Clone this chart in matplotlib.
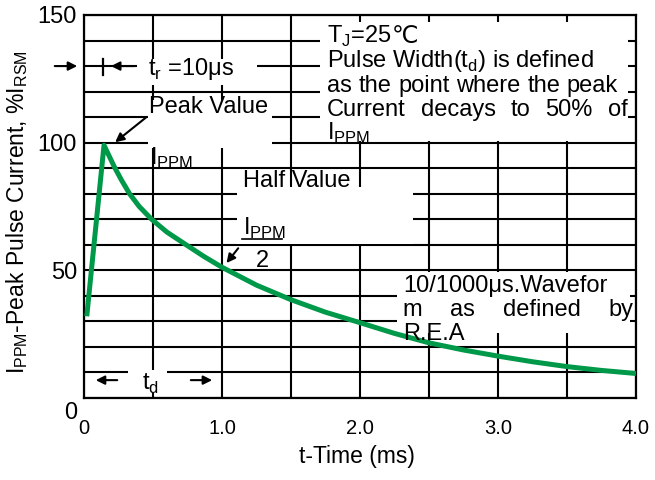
import matplotlib
matplotlib.use("Agg")
import matplotlib.pyplot as plt
from matplotlib.patches import Rectangle
from matplotlib.transforms import ScaledTranslation

plt.rcParams['font.family'] = ['Liberation Sans', 'DejaVu Sans']
plt.rcParams['mathtext.fontset'] = 'custom'
plt.rcParams['mathtext.rm'] = 'Liberation Sans'

#  10/1000us pulse waveform
t_ms = [0.02, 0.145, 0.22, 0.27, 0.33, 0.40, 0.49, 0.60, 0.74, 0.87, 1.0,
        1.25, 1.5, 1.75, 2.0, 2.25, 2.5, 2.75, 3.0, 3.25, 3.5, 3.75, 4.0]
ipp = [32, 99, 90.5, 85.5, 80, 75, 70, 65, 60, 55.4, 51.2,
       44.2, 38.5, 33.6, 29.5, 25.3, 21.6, 18.8, 16.4, 14.2, 12.3, 10.8, 9.6]

x_ticks = [0, 1, 2, 3, 4]
x_labels = ['0', '1.0', '2.0', '3.0', '4.0']
y_ticks = [0, 50, 100, 150]
y_labels = ['0', '50', '100', '150']

GREEN = '#00994a'
FS = 17

fig = plt.figure(figsize=(6.55, 4.8), dpi=100)
ax = fig.add_axes([84 / 655, 82 / 480, 552 / 655, 383 / 480])
ax.set_xlim(0, 4)
ax.set_ylim(0, 150)

ax.set_xticks(x_ticks, x_labels, fontsize=14.5)
ax.set_yticks(y_ticks, y_labels, fontsize=17)
ax.set_xticks([i * 0.5 for i in range(9)], minor=True)
ax.set_yticks(list(range(0, 151, 10)), minor=True)
ax.tick_params(which='both', length=0)
ax.tick_params(axis='x', pad=15)
ax.tick_params(axis='y', pad=5)
ax.set_axisbelow(True)
ax.grid(which='both', color='black', lw=1.5)
for s in ax.spines.values():
    s.set_linewidth(1.6)

# the "0" on the y axis sits a bit lower in the original
lab0 = ax.yaxis.get_major_ticks()[0].label1
lab0.set_transform(lab0.get_transform() +
                   ScaledTranslation(0, -9 / 72, fig.dpi_scale_trans))

#  white boxes behind the annotations (hide the grid there)
masks = [(0.384, 122.6, 0.87, 10.2),
         (0.464, 98.0, 0.898, 18.7),
         (1.109, 60.3, 1.275, 22.3),
         (2.268, 25.5, 1.689, 23.9),
         (0.319, 2.0, 0.282, 9.0),
         (1.71, 100.7, 2.232, 46.6)]
for x0, y0, w, h in masks:
    ax.add_patch(Rectangle((x0, y0), w, h, facecolor='white',
                           edgecolor='none', zorder=1))

ax.plot(t_ms, ipp, color=GREEN, lw=3.6, zorder=3, solid_capstyle='butt')


def txt(x, y, s, **kw):
    kw.setdefault('fontsize', FS)
    return ax.text(x, y, s, va='baseline', zorder=4, **kw)


def data_width(item):
    r = fig.canvas.get_renderer()
    return item.get_window_extent(r).width * 4.0 / ax.get_window_extent(r).width


def justify(words, x0, x1, y):
    items = [txt(x0, y, w) for w in words]
    widths = [data_width(it) for it in items]
    gap = (x1 - x0 - sum(widths)) / (len(words) - 1)
    x = x0
    for it, w in zip(items, widths):
        it.set_x(x)
        x += w + gap


IPPM = r'I$_{\mathregular{PPM}}$'

# top right note
tj = txt(1.76, 139, r'T$_{\mathregular{J}}$=25')
txt(1.76 + data_width(tj), 139, '℃')
txt(1.76, 129.5, r'Pulse Width(t$_{\mathregular{d}}$) is defined')
justify(['as', 'the', 'point', 'where', 'the', 'peak'], 1.76, 3.87, 120)
justify(['Current', 'decays', 'to', '50%', 'of'], 1.76, 3.94, 110.5)
txt(1.76, 101, IPPM)

# rise time
txt(0.465, 126.5, r't$_{\mathregular{r}}$ =10μs')
ax.plot([0.138, 0.138], [126.4, 132.7], color='black', lw=1.6, zorder=4)
arrow = dict(arrowstyle='-|>', color='black', lw=1.5, mutation_scale=13)
ax.annotate('', xy=(-0.029, 130), xytext=(-0.232, 130),
            arrowprops=arrow, annotation_clip=False)
ax.annotate('', xy=(0.175, 130), xytext=(0.384, 130), arrowprops=arrow)

# peak / half value
txt(0.47, 111.6, 'Peak Value')
ax.annotate('', xy=(0.21, 99.5), xytext=(0.464, 110.5), arrowprops=arrow)
txt(0.478, 91.5, IPPM)
txt(1.152, 82.6, 'Half Value')
txt(1.152, 63.8, IPPM)
ax.plot([1.145, 1.435], [62.3, 62.3], color='black', lw=1.2, zorder=4)
txt(1.29, 51.3, '2', ha='center')
ax.annotate('', xy=(1.02, 52), xytext=(1.13, 59.5), arrowprops=arrow)

# waveform note
txt(2.31, 41.5, '10/1000μs.Wavefor')
justify(['m', 'as', 'defined', 'by'], 2.31, 3.98, 32.1)
txt(2.31, 22.7, 'R.E.A')

# pulse width
txt(0.42, 3.1, r't$_{\mathregular{d}}$')
ax.annotate('', xy=(0.065, 7), xytext=(0.261, 7), arrowprops=arrow)
ax.annotate('', xy=(0.949, 7), xytext=(0.754, 7), arrowprops=arrow)

fig.text(357 / 655, 1 - 456 / 480, 't-Time (ms)', ha='center', va='center',
         fontsize=16.5)
fig.text(17 / 655, 1 - 212 / 480,
         r'I$_{\mathregular{PPM}}$-Peak Pulse Current, %I$_{\mathregular{RSM}}$',
         rotation=90, ha='center', va='center', fontsize=16.5)

fig.savefig('out.png', dpi=100)
